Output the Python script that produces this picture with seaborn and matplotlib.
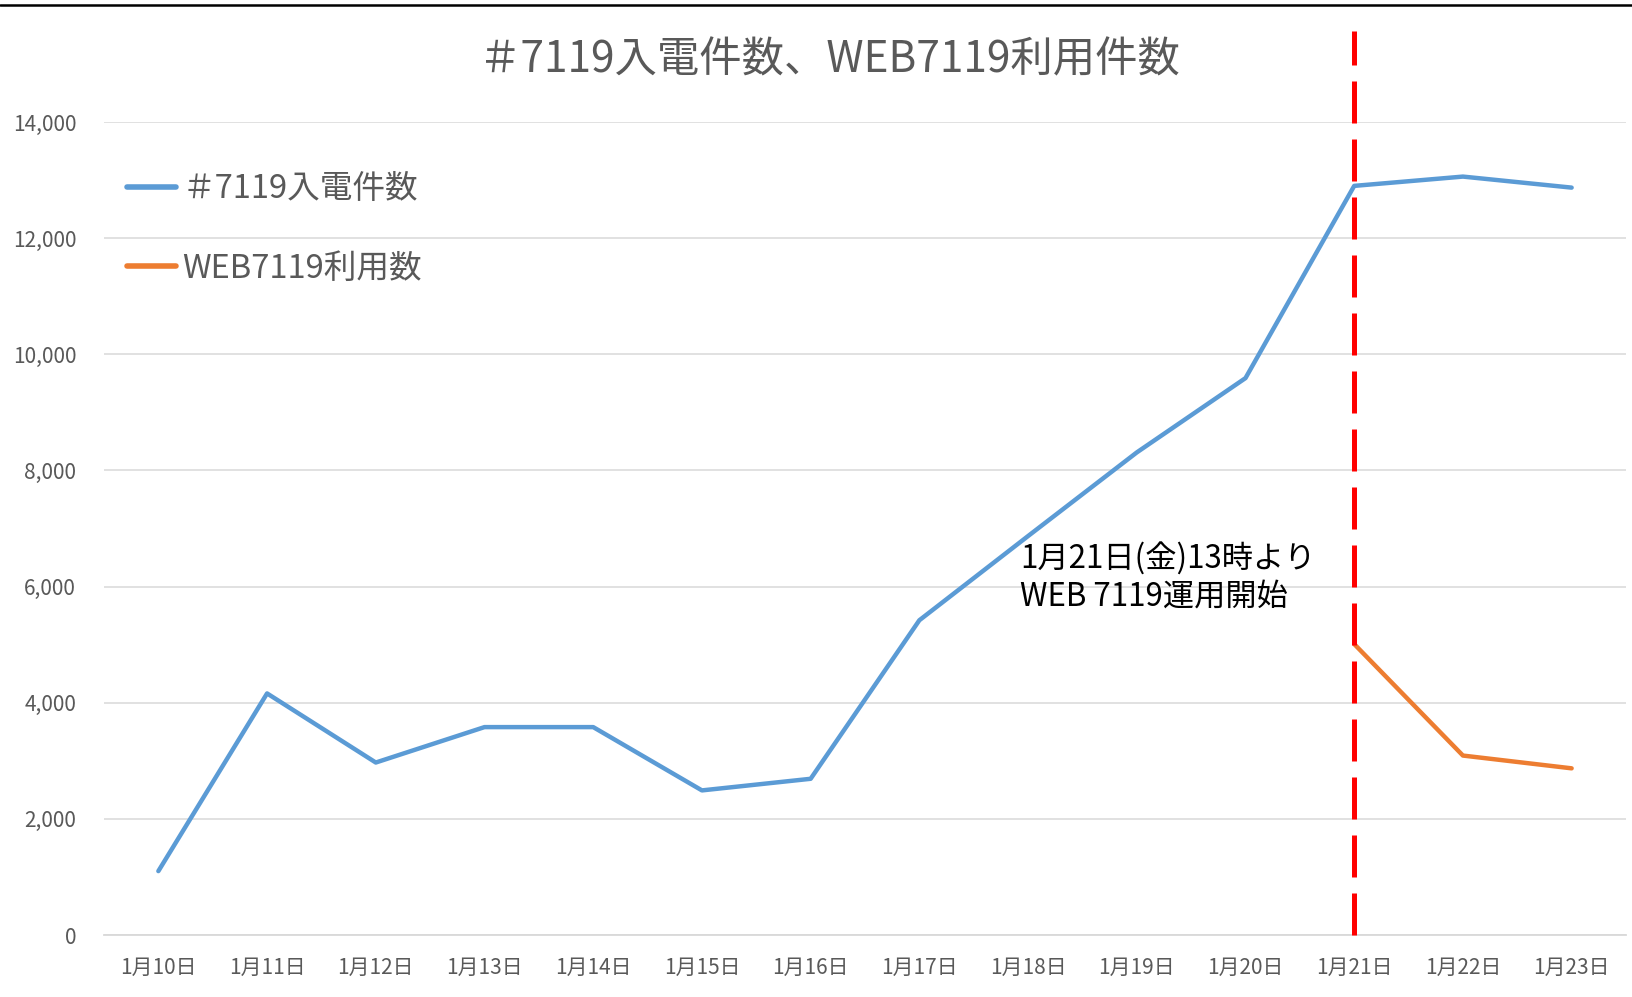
import pandas as pd
import seaborn as sns
import matplotlib.pyplot as plt
from matplotlib.ticker import StrMethodFormatter


# data
dates = ["1月10日", "1月11日", "1月12日", "1月13日", "1月14日", "1月15日", "1月16日",
         "1月17日", "1月18日", "1月19日", "1月20日", "1月21日", "1月22日", "1月23日"]
calls_7119 = [1100, 4160, 2970, 3580, 3580, 2490, 2690,
              5420, 6870, 8310, 9590, 12900, 13060, 12870]
web_dates = ["1月21日", "1月22日", "1月23日"]
web_7119 = [5010, 3090, 2870]

label_calls = "＃7119入電件数"
label_web = "WEB7119利用数"
start_day = "1月21日"
note = "1月21日(金)13時より\nWEB 7119運用開始"
title = "＃7119入電件数、WEB7119利用件数"

blue = "#5B9BD5"
orange = "#ED7D31"
grey_text = "#595959"
grid_col = "#D9D9D9"

df = pd.concat([
    pd.DataFrame({"日付": dates, "件数": calls_7119, "系列": label_calls}),
    pd.DataFrame({"日付": web_dates, "件数": web_7119, "系列": label_web}),
], ignore_index=True)

sns.set_style("white")
plt.rcParams['font.family'] = ['Noto Sans CJK JP', 'DejaVu Sans']

fig = plt.figure(figsize=(16.32, 9.97), dpi=100)
ax = fig.add_axes([104 / 1632, 62 / 997, 1522 / 1632, 813 / 997])

sns.lineplot(data=df, x="日付", y="件数", hue="系列", palette=[blue, orange],
             linewidth=3.2, sort=False, ax=ax)

# vertical marker for the WEB 7119 start
ax.axvline(dates.index(start_day), ymin=0, ymax=1.112, color="red", lw=3.6,
           dashes=(8.4, 3.2), clip_on=False, zorder=3)

ax.text(7.93, 6150, note, ha="left", va="center", fontsize=22.5,
        color="black", linespacing=1.2)

ax.set_xlim(-0.5, len(dates) - 0.5)
ax.set_ylim(0, 14000)
ax.set_yticks(range(0, 14001, 2000))
ax.yaxis.set_major_formatter(StrMethodFormatter("{x:,.0f}"))
ax.set_xticks([i - 0.5 for i in range(len(dates) + 1)], minor=True)
ax.set_xlabel("")
ax.set_ylabel("")

ax.grid(axis="y", color=grid_col, lw=1.1)
ax.set_axisbelow(True)
for s in ["top", "right", "left"]:
    ax.spines[s].set_visible(False)
ax.spines["bottom"].set_color(grid_col)
ax.spines["bottom"].set_linewidth(1.3)

ax.tick_params(axis="y", length=0, pad=20, labelsize=15, labelcolor=grey_text)
ax.tick_params(axis="x", which="major", length=0, pad=16, labelsize=15,
               labelcolor=grey_text)
ax.tick_params(axis="x", which="minor", length=5, width=1.1, color=grid_col,
               direction="out")

sns.move_legend(ax, loc="center left", bbox_to_anchor=(0.0151, 0.8684),
                frameon=False, title=None, fontsize=23.5, borderpad=0,
                borderaxespad=0, handlelength=1.5, handletextpad=0.2,
                labelspacing=1.45, labelcolor=grey_text)
for h in ax.get_legend().legend_handles:
    h.set_linewidth(4)

fig.suptitle(title, x=830 / 1632, y=1 - 60 / 997, ha="center", va="center",
             fontsize=30.5, color=grey_text)

# black rule across the top of the picture
fig.add_artist(plt.Line2D([0, 1], [1 - 5.5 / 997] * 2, transform=fig.transFigure,
                          color="black", lw=1.8))

fig.savefig("out.png", dpi=100)
